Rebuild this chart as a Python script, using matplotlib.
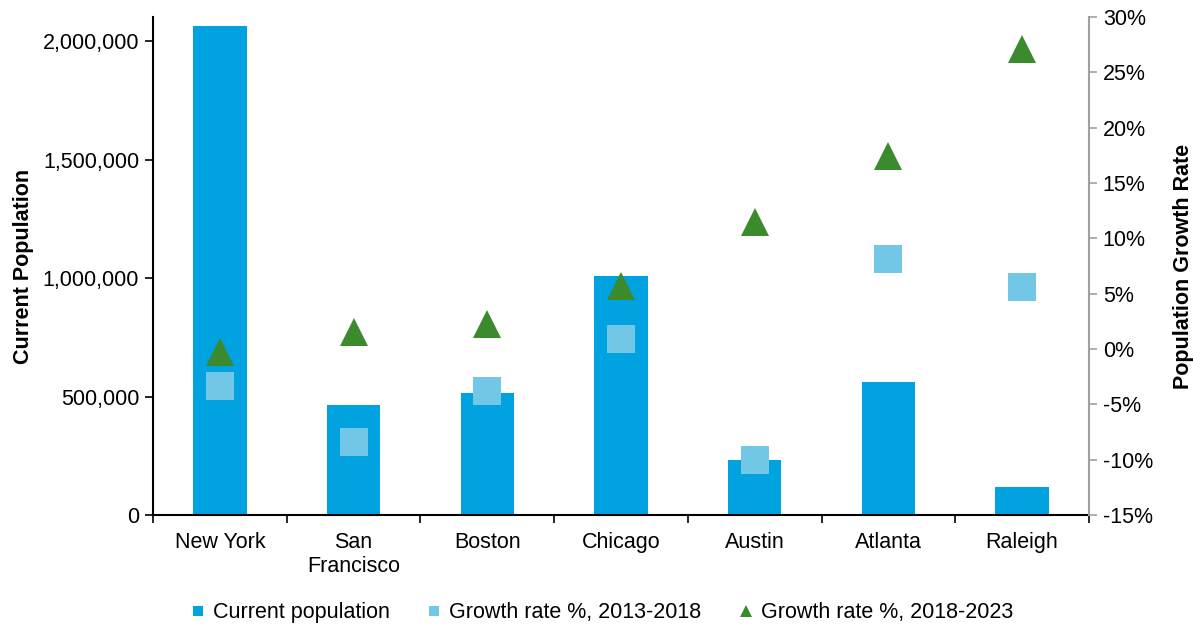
import matplotlib.pyplot as plt
from matplotlib.ticker import FuncFormatter, FixedLocator
from matplotlib.lines import Line2D

cities = ["New York", "San\nFrancisco", "Boston", "Chicago", "Austin", "Atlanta", "Raleigh"]
population = [2063000, 464000, 515000, 1008000, 232000, 561000, 118000]
growth_2013_2018 = [-3.3, -8.4, -3.75, 0.86, -10.0, 8.1, 5.6]
growth_2018_2023 = [-0.27, 1.54, 2.26, 5.69, 11.48, 17.44, 27.1]

bar_color = "#00A2E0"
sq_color = "#72C6E6"
tri_color = "#3C8A2E"
fs = 15.5

plt.rcParams["font.family"] = ["Liberation Sans", "DejaVu Sans"]

fig = plt.figure(figsize=(11.93, 6.29), dpi=100)
ax = fig.add_axes([0.1283, 0.1812, 0.7845, 0.7918])
ax2 = ax.twinx()

x = list(range(len(cities)))
ax.bar(x, population, width=0.4, color=bar_color, zorder=2)

ax2.plot(x, growth_2013_2018, linestyle="none", marker="s", markersize=20,
         color=sq_color, markeredgewidth=0, zorder=3)
ax2.plot(x, growth_2018_2023, linestyle="none", marker="^", markersize=20,
         color=tri_color, markeredgewidth=0, zorder=4)

# left axis
ax.set_xlim(-0.5, len(cities) - 0.5)
ax.set_ylim(0, 2101300)
ax.set_yticks([0, 500000, 1000000, 1500000, 2000000])
ax.yaxis.set_major_formatter(FuncFormatter(lambda v, p: f"{int(v):,}"))
ax.set_ylabel("Current Population", fontsize=fs, fontweight="bold", labelpad=6)
ax.tick_params(axis="y", labelsize=fs, length=6, width=1.2, color="black", pad=4)

# category ticks at boundaries
ax.set_xticks(x)
ax.set_xticklabels(cities, fontsize=fs)
ax.tick_params(axis="x", which="major", length=0, pad=12)
ax.xaxis.set_minor_locator(FixedLocator([i - 0.5 for i in range(len(cities) + 1)]))
ax.tick_params(axis="x", which="minor", length=6, width=1.2, color="black")

for s in ["top", "right"]:
    ax.spines[s].set_visible(False)
ax.spines["left"].set_linewidth(1.5)
ax.spines["bottom"].set_linewidth(1.5)

# right axis
ax2.set_ylim(-15, 30)
ax2.set_yticks(range(-15, 31, 5))
ax2.yaxis.set_major_formatter(FuncFormatter(lambda v, p: f"{int(v)}%"))
ax2.set_ylabel("Population Growth Rate", fontsize=fs, fontweight="bold", labelpad=14)
ax2.tick_params(axis="y", labelsize=fs, length=6, width=1.2, color="#A0A0A0", pad=4)
for s in ["top", "left", "bottom"]:
    ax2.spines[s].set_visible(False)
ax2.spines["right"].set_color("#A0A0A0")
ax2.spines["right"].set_linewidth(1.5)

handles = [
    Line2D([], [], linestyle="none", marker="s", markersize=7.5, color=bar_color, markeredgewidth=0),
    Line2D([], [], linestyle="none", marker="s", markersize=7.5, color=sq_color, markeredgewidth=0),
    Line2D([], [], linestyle="none", marker="^", markersize=8, color=tri_color, markeredgewidth=0),
]
labels = ["Current population", "Growth rate %, 2013-2018", "Growth rate %, 2018-2023"]
fig.legend(handles, labels, loc="lower center", bbox_to_anchor=(0.505, -0.022), ncol=3,
           frameon=False, fontsize=fs, handletextpad=0.4, columnspacing=1.75,
           handlelength=0.6)

fig.savefig("out.png", dpi=100)
